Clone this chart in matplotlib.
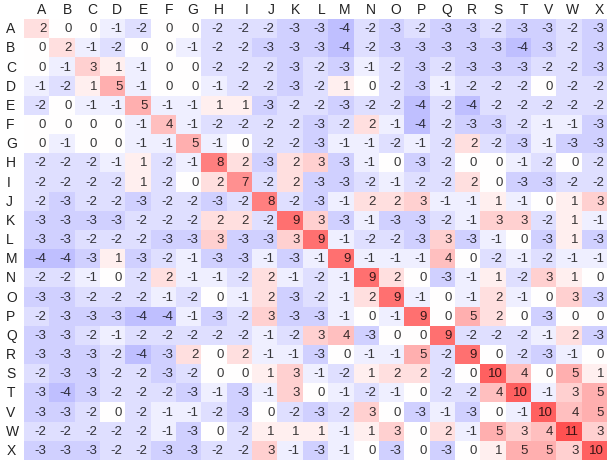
import matplotlib.pyplot as plt
import numpy as np

# labels
letters = ["A", "B", "C", "D", "E", "F", "G", "H", "I", "J", "K", "L",
           "M", "N", "O", "P", "Q", "R", "S", "T", "V", "W", "X"]

# score matrix, one row per letter
row_A = [2, 0, 0, -1, -2, 0, 0, -2, -2, -2, -3, -3, -4, -2, -3, -2, -3, -3, -2, -3, -3, -2, -3]
row_B = [0, 2, -1, -2, 0, 0, -1, -2, -2, -3, -3, -3, -4, -2, -3, -3, -3, -3, -3, -4, -3, -2, -3]
row_C = [0, -1, 3, 1, -1, 0, 0, -2, -2, -2, -3, -2, -3, -1, -2, -3, -2, -3, -3, -3, -2, -2, -3]
row_D = [-1, -2, 1, 5, -1, 0, 0, -1, -2, -2, -3, -2, 1, 0, -2, -3, -1, -2, -2, -2, 0, -2, -2]
row_E = [-2, 0, -1, -1, 5, -1, -1, 1, 1, -3, -2, -2, -3, -2, -2, -4, -2, -4, -2, -2, -2, -2, -2]
row_F = [0, 0, 0, 0, -1, 4, -1, -2, -2, -2, -2, -3, -2, 2, -1, -4, -2, -3, -3, -2, -1, -1, -3]
row_G = [0, -1, 0, 0, -1, -1, 5, -1, 0, -2, -2, -3, -1, -1, -2, -1, -2, 2, -2, -3, -1, -3, -3]
row_H = [-2, -2, -2, -1, 1, -2, -1, 8, 2, -3, 2, 3, -3, -1, 0, -3, -2, 0, 0, -1, -2, 0, -2]
row_I = [-2, -2, -2, -2, 1, -2, 0, 2, 7, -2, 2, -3, -3, -2, -1, -2, -2, 2, 0, -3, -3, -2, -2]
row_J = [-2, -3, -2, -2, -3, -2, -2, -3, -2, 8, -2, -3, -1, 2, 2, 3, -1, -1, 1, -1, 0, 1, 3]
row_K = [-3, -3, -3, -3, -2, -2, -2, 2, 2, -2, 9, 3, -3, -1, -3, -3, -2, -1, 3, 3, -2, 1, -1]
row_L = [-3, -3, -2, -2, -2, -3, -3, 3, -3, -3, 3, 9, -1, -2, -2, -3, 3, -3, -1, 0, -3, 1, -3]
row_M = [-4, -4, -3, 1, -3, -2, -1, -3, -3, -1, -3, -1, 9, -1, -1, -1, 4, 0, -2, -1, -2, -1, -1]
row_N = [-2, -2, -1, 0, -2, 2, -1, -1, -2, 2, -1, -2, -1, 9, 2, 0, -3, -1, 1, -2, 3, 1, 0]
row_O = [-3, -3, -2, -2, -2, -1, -2, 0, -1, 2, -3, -2, -1, 2, 9, -1, 0, -1, 2, -1, 0, 3, -3]
row_P = [-2, -3, -3, -3, -4, -4, -1, -3, -2, 3, -3, -3, -1, 0, -1, 9, 0, 5, 2, 0, -3, 0, 0]
row_Q = [-3, -3, -2, -1, -2, -2, -2, -2, -2, -1, -2, 3, 4, -3, 0, 0, 9, -2, -2, -2, -1, 2, -3]
row_R = [-3, -3, -3, -2, -4, -3, 2, 0, 2, -1, -1, -3, 0, -1, -1, 5, -2, 9, 0, -2, -3, -1, 0]
row_S = [-2, -3, -3, -2, -2, -3, -2, 0, 0, 1, 3, -1, -2, 1, 2, 2, -2, 0, 10, 4, 0, 5, 1]
row_T = [-3, -4, -3, -2, -2, -2, -3, -1, -3, -1, 3, 0, -1, -2, -1, 0, -2, -2, 4, 10, -1, 3, 5]
row_V = [-3, -3, -2, 0, -2, -1, -1, -2, -3, 0, -2, -3, -2, 3, 0, -3, -1, -3, 0, -1, 10, 4, 5]
row_W = [-2, -2, -2, -2, -2, -1, -3, 0, -2, 1, 1, 1, -1, 1, 3, 0, 2, -1, 5, 3, 4, 11, 3]
row_X = [-3, -3, -3, -2, -2, -3, -3, -2, -2, 3, -1, -3, -1, 0, -3, 0, -3, 0, 1, 5, 5, 3, 10]

scores = np.array([row_A, row_B, row_C, row_D, row_E, row_F, row_G, row_H, row_I,
                   row_J, row_K, row_L, row_M, row_N, row_O, row_P, row_Q, row_R,
                   row_S, row_T, row_V, row_W, row_X])

# bwr faded towards white
cmap = plt.get_cmap("bwr")
norm = plt.Normalize(-11, 11)
alpha = 0.68
rgb = cmap(norm(scores))[:, :, :3]
rgb = 1 - alpha * (1 - rgb)

fig = plt.figure(figsize=(6.07, 4.61), dpi=100)
ax = fig.add_axes([24 / 607, 1 / 461, 583 / 607, 441 / 461])

ax.imshow(rgb, aspect="auto", interpolation="nearest")

n = len(letters)
for i in range(n):
    for j in range(n):
        # text is a dark shade of the cell colour
        tc = rgb[i, j] * 0.22
        ax.text(j + 0.38, i + 0.03, str(scores[i, j]), ha="right", va="center",
                fontsize=9.5, color=tc, family="Liberation Sans")

ax.set_xlim(-0.5, n - 0.5)
ax.set_ylim(n - 0.5, -0.5)
for s in ax.spines.values():
    s.set_visible(False)
ax.set_xticks([])
ax.set_yticks([])

# column and row headers
for j, lab in enumerate(letters):
    ax.text(j + 0.38, -0.98, lab, ha="right", va="center", fontsize=10,
            color="#222222", family="Liberation Sans", clip_on=False)
for i, lab in enumerate(letters):
    ax.text(-1.2, i + 0.03, lab, ha="left", va="center", fontsize=10,
            color="#222222", family="Liberation Sans", clip_on=False)

fig.savefig("out.png", dpi=100)
